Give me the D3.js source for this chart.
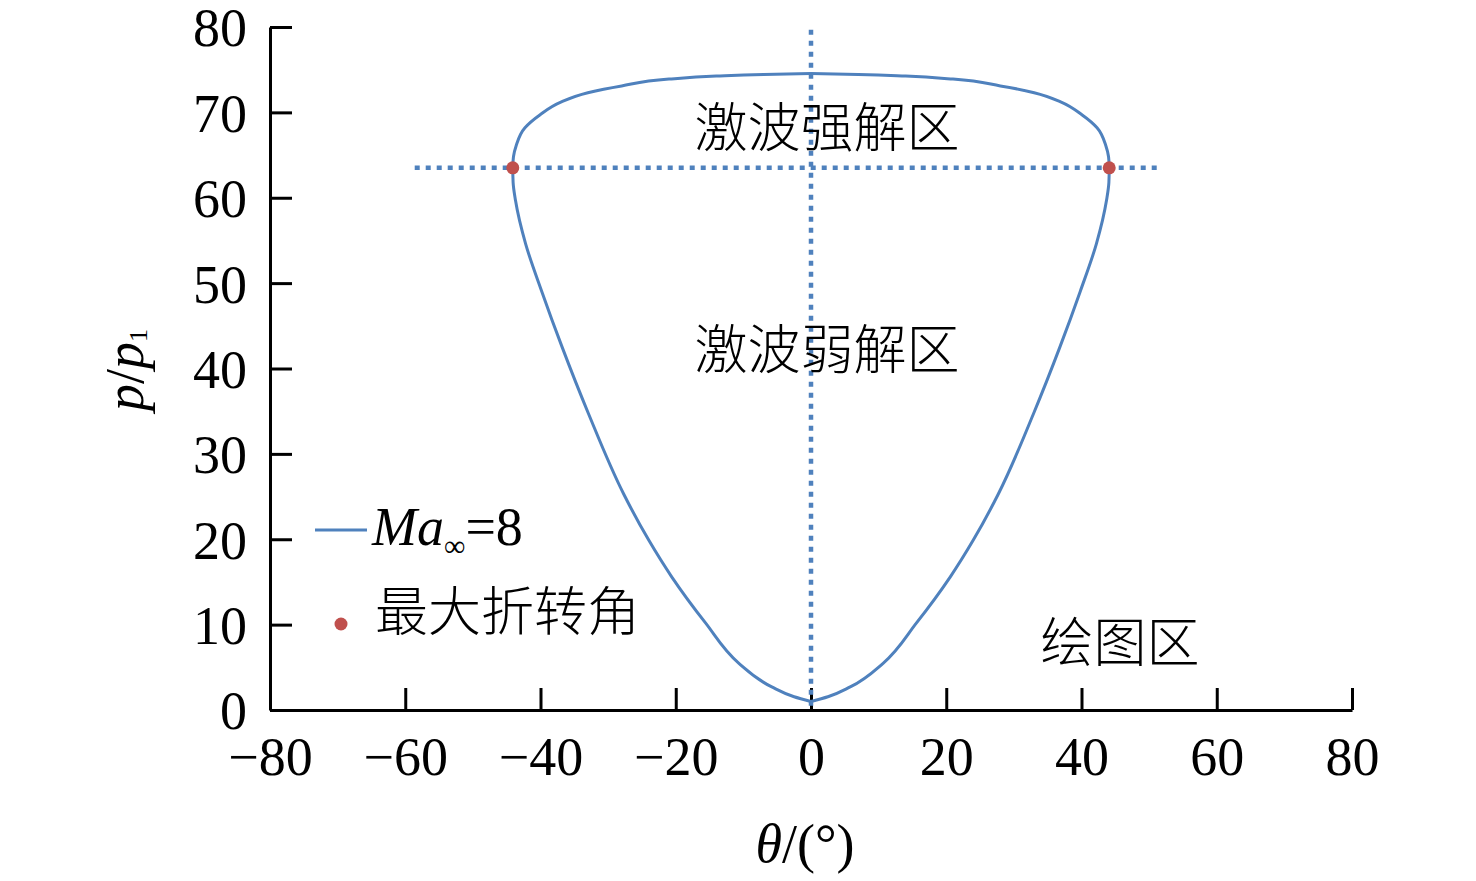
<!DOCTYPE html>
<html>
<head>
<meta charset="utf-8">
<script src="https://cdn.jsdelivr.net/npm/d3@7"></script>
<style>
  body { margin: 0; background: #fff; }
  svg { display: block; }
</style>
</head>
<body>
<div id="chart"></div>
<script>
const SVG_WIDTH = 1476;
const SVG_HEIGHT = 881;
const LATIN = "'Liberation Serif', 'Times New Roman', serif";
const CJK = "'Noto Sans CJK SC', sans-serif";
const BLUE = "#4f81bd";
const RED = "#c0504d";

// shock polar, Ma = 8, each half from the top down
const rightTheta = [0, 7.0, 14.0, 21.0, 28.0, 33.0, 37.0, 40.1, 42.3, 43.6, 44.0, 44.1, 44.05, 43.7, 42.2, 39.8, 36.8, 32.9, 27.7, 24.0, 20.6, 15.6, 10.7, 5.8, 2.5, 0];
const rightP     = [74.55, 74.45, 74.25, 73.9, 73.1, 72.3, 71.2, 69.7, 68.2, 66.1, 64.8, 63.5, 61.8, 59.7, 54.6, 49.0, 42.5, 34.7, 25.3, 19.9, 15.6, 10.2, 5.5, 2.7, 1.55, 1.0];
const leftTheta  = [0, -7.0, -14.0, -21.0, -28.0, -33.0, -37.0, -40.1, -42.3, -43.6, -44.0, -44.1, -44.05, -43.7, -42.2, -39.8, -36.8, -32.9, -27.7, -24.0, -20.6, -15.6, -10.7, -5.8, -2.5, 0];
const leftP      = [74.55, 74.45, 74.25, 73.9, 73.1, 72.3, 71.2, 69.7, 68.2, 66.1, 64.8, 63.5, 61.8, 59.7, 54.6, 49.0, 42.5, 34.7, 25.3, 19.9, 15.6, 10.2, 5.5, 2.7, 1.55, 1.0];

// maximum turning angle points
const maxTurnTheta = [-44.1, 44.1];
const maxTurnP = [63.5, 63.5];

// dotted guide lines
const vGuideTheta = [0, 0];
const vGuideP = [0.5, 80];
const hGuideTheta = [-58.6, 51.9];
const hGuideP = [63.5, 63.5];

const xTicks = [-80, -60, -40, -20, 0, 20, 40, 60, 80];
const yTicks = [0, 10, 20, 30, 40, 50, 60, 70, 80];

const zip = (xs, ys) => xs.map((v, i) => ({ theta: v, p: ys[i] }));

const svg = d3.select("#chart").append("svg")
    .attr("width", SVG_WIDTH)
    .attr("height", SVG_HEIGHT);

const x = d3.scaleLinear().domain([-80, 80]).range([270, 1352]);
const y = d3.scaleLinear().domain([0, 80]).range([710, 27]);

// axes
const xAxis = svg.append("g")
    .attr("transform", `translate(0,${y(0)})`)
    .call(d3.axisBottom(x).tickValues(xTicks).tickSizeInner(-22).tickSizeOuter(0));
xAxis.select(".domain").attr("stroke", "#000").attr("stroke-width", 3);
xAxis.selectAll(".tick line").attr("stroke", "#000").attr("stroke-width", 3);
xAxis.selectAll(".tick text")
    .attr("y", 65).attr("dy", 0)
    .attr("font-family", LATIN).attr("font-size", 54).attr("fill", "#000");

const yAxis = svg.append("g")
    .attr("transform", `translate(${x(-80)},0)`)
    .call(d3.axisLeft(y).tickValues(yTicks).tickSizeInner(-22).tickSizeOuter(0));
yAxis.select(".domain").attr("stroke", "#000").attr("stroke-width", 3);
yAxis.selectAll(".tick line").attr("stroke", "#000").attr("stroke-width", 3);
yAxis.selectAll(".tick text")
    .attr("x", -23).attr("dy", "0.35em")
    .attr("font-family", LATIN).attr("font-size", 54).attr("fill", "#000");

// guides
const straight = d3.line().x(d => x(d.theta)).y(d => y(d.p));
[zip(vGuideTheta, vGuideP), zip(hGuideTheta, hGuideP)].forEach(g => {
    svg.append("path")
        .attr("d", straight(g))
        .attr("fill", "none")
        .attr("stroke", BLUE)
        .attr("stroke-width", 4.5)
        .attr("stroke-dasharray", "5,6");
});

// polar curve: p is monotone along each half, so smooth theta as a function of p
const curve = d3.line()
    .x(d => x(d.theta))
    .y(d => y(d.p))
    .curve(d3.curveMonotoneY);

[zip(rightTheta, rightP), zip(leftTheta, leftP)].forEach(half => {
    svg.append("path")
        .attr("d", curve(half))
        .attr("fill", "none")
        .attr("stroke", BLUE)
        .attr("stroke-width", 3);
});

svg.selectAll(".maxturn")
    .data(zip(maxTurnTheta, maxTurnP))
    .enter()
    .append("circle")
    .attr("class", "maxturn")
    .attr("cx", d => x(d.theta))
    .attr("cy", d => y(d.p))
    .attr("r", 6.5)
    .attr("fill", RED);

// region labels
const cjkText = (tx, ty, s, anchor) => svg.append("text")
    .attr("x", tx).attr("y", ty)
    .attr("text-anchor", anchor || "middle")
    .attr("font-family", CJK).attr("font-size", 53).attr("font-weight", 300)
    .attr("fill", "#000")
    .text(s);

cjkText(827, 147, "激波强解区");
cjkText(827, 369, "激波弱解区");
cjkText(1120, 662, "绘图区");

// legend
svg.append("line")
    .attr("x1", 315).attr("x2", 367).attr("y1", 530).attr("y2", 530)
    .attr("stroke", BLUE).attr("stroke-width", 3);
const leg = svg.append("text")
    .attr("x", 372).attr("y", 545)
    .attr("font-family", LATIN).attr("font-size", 54).attr("fill", "#000");
leg.append("tspan").attr("font-style", "italic").text("Ma");
leg.append("tspan").attr("font-size", 30).attr("dy", 11).text("∞");
leg.append("tspan").attr("dy", -11).text("=8");

svg.append("circle")
    .attr("cx", 341).attr("cy", 624).attr("r", 6.5)
    .attr("fill", RED);
cjkText(375, 631, "最大折转角", "start");

// axis titles
const xt = svg.append("text")
    .attr("x", 805).attr("y", 862)
    .attr("text-anchor", "middle")
    .attr("font-family", LATIN).attr("font-size", 54).attr("fill", "#000");
xt.append("tspan").attr("font-style", "italic").text("θ");
xt.append("tspan").text("/(°)");

const yt = svg.append("text")
    .attr("transform", "translate(143,370) rotate(-90)")
    .attr("text-anchor", "middle")
    .attr("font-family", LATIN).attr("font-size", 54).attr("fill", "#000");
yt.append("tspan").attr("font-style", "italic").text("p");
yt.append("tspan").text("/");
yt.append("tspan").attr("font-style", "italic").text("p");
yt.append("tspan").attr("font-size", 26).attr("dy", 4).text("1");
</script>
</body>
</html>
